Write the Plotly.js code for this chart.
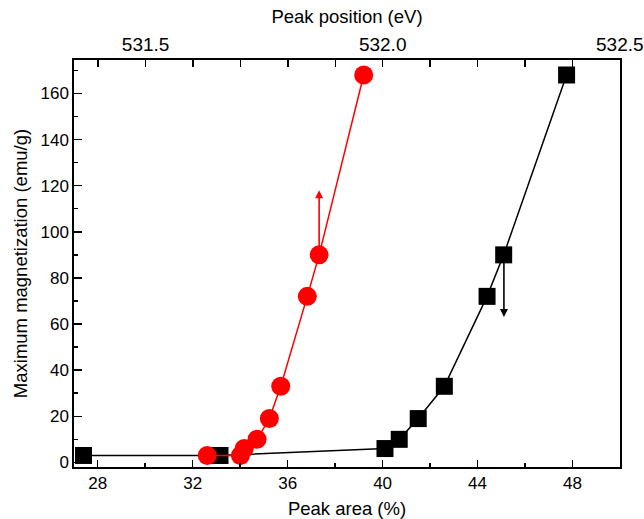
<!DOCTYPE html>
<html>
<head>
<meta charset="utf-8">
<script src="https://cdn.plot.ly/plotly-3.0.1.min.js"></script>
<style>html,body{margin:0;padding:0;background:#fff;}#chart{width:644px;height:519px;}</style>
</head>
<body>
<div id="chart"></div>
<script>
// Data
const peakArea = [27.4, 33.15, 40.1, 40.7, 41.5, 42.6, 44.4, 45.1, 47.75];          // %
const magArea = [3, 3, 6, 10, 19, 33, 72, 90, 168];                                   // emu/g
const peakPosition = [531.63, 531.70, 531.708, 531.735, 531.761, 531.785, 531.841, 531.866, 531.96]; // eV
const magPosition = [3, 3, 6, 10, 19, 33, 72, 90, 168];                               // emu/g
// Arrows: [x, tailY, tipY]
const redArrow = [531.866, 90, 118];
const blackArrow = [45.11, 90, 63];

const FONT = 'Liberation Sans, Arial, sans-serif';

const traces = [
  {
    x: peakArea, y: magArea, xaxis: 'x', yaxis: 'y',
    mode: 'lines+markers', type: 'scatter',
    line: {color: '#000000', width: 1.5},
    marker: {symbol: 'square', size: 17, color: '#000000'},
    showlegend: false, hoverinfo: 'skip'
  },
  {
    x: peakPosition, y: magPosition, xaxis: 'x2', yaxis: 'y',
    mode: 'lines+markers', type: 'scatter',
    line: {color: '#ff0000', width: 1.5},
    marker: {symbol: 'circle', size: 19, color: '#ff0000'},
    showlegend: false, hoverinfo: 'skip'
  }
];

const layout = {
  width: 644, height: 519,
  margin: {l: 74, r: 24, t: 60, b: 52},
  paper_bgcolor: '#ffffff', plot_bgcolor: '#ffffff',
  font: {family: FONT, size: 17, color: '#000'},
  xaxis: {
    range: [27, 50], tickmode: 'linear', tick0: 28, dtick: 4,
    ticks: 'inside', ticklen: 7, tickwidth: 1.5, tickcolor: '#000',
    minor: {tickmode: 'linear', tick0: 28, dtick: 2, ticks: 'inside', ticklen: 4, tickwidth: 1.5, tickcolor: '#000'},
    showline: true, linecolor: '#000', linewidth: 1.7, mirror: false,
    showgrid: false, zeroline: false,
    tickfont: {family: FONT, size: 17},
    title: {text: 'Peak area (%)', font: {family: FONT, size: 18.5}, standoff: 14},
    automargin: false
  },
  xaxis2: {
    overlaying: 'x', side: 'top', anchor: 'y',
    range: [531.349, 532.5005], tickmode: 'linear', tick0: 531.5, dtick: 0.5, tickformat: '.1f',
    ticks: 'inside', ticklen: 7, tickwidth: 1.5, tickcolor: '#000',
    minor: {tickmode: 'linear', tick0: 531.5, dtick: 0.1, ticks: 'inside', ticklen: 7, tickwidth: 1.5, tickcolor: '#000'},
    showline: true, linecolor: '#000', linewidth: 1.7,
    showgrid: false, zeroline: false,
    tickfont: {family: FONT, size: 19},
    title: {text: 'Peak position (eV)', font: {family: FONT, size: 18.5}, standoff: 5},
    automargin: false
  },
  yaxis: {
    range: [-2, 174.5], tickmode: 'linear', tick0: 0, dtick: 20,
    ticks: 'inside', ticklen: 8, tickwidth: 1.5, tickcolor: '#000',
    minor: {tickmode: 'linear', tick0: 0, dtick: 10, ticks: 'inside', ticklen: 4, tickwidth: 1.5, tickcolor: '#000'},
    showline: true, linecolor: '#000', linewidth: 1.7, mirror: true,
    showgrid: false, zeroline: false,
    tickfont: {family: FONT, size: 17},
    title: {text: 'Maximum magnetization (emu/g)', font: {family: FONT, size: 18.5}, standoff: 8},
    automargin: false
  },
  annotations: [
    {
      xref: 'x2', yref: 'y', axref: 'x2', ayref: 'y',
      x: redArrow[0], y: redArrow[2], ax: redArrow[0], ay: redArrow[1],
      text: '', showarrow: true, arrowhead: 2, arrowsize: 1, arrowwidth: 1.6,
      arrowcolor: '#ff0000', standoff: 0, startstandoff: 0
    },
    {
      xref: 'x', yref: 'y', axref: 'x', ayref: 'y',
      x: blackArrow[0], y: blackArrow[2], ax: blackArrow[0], ay: blackArrow[1],
      text: '', showarrow: true, arrowhead: 2, arrowsize: 1, arrowwidth: 1.6,
      arrowcolor: '#000000', standoff: 0, startstandoff: 0
    }
  ]
};

Plotly.newPlot('chart', traces, layout, {staticPlot: true, displayModeBar: false});
</script>
</body>
</html>
